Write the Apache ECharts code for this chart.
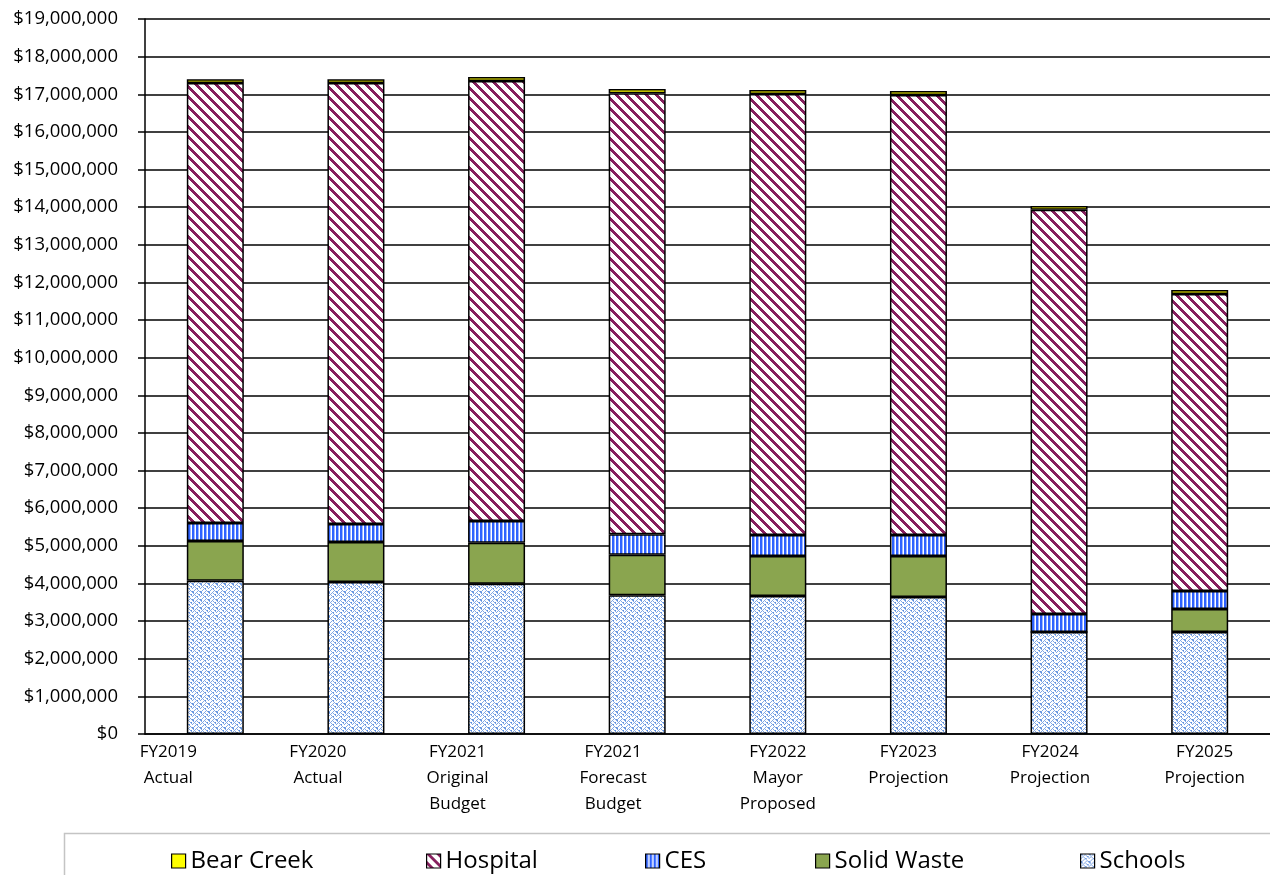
<!DOCTYPE html>
<html><head><meta charset="utf-8">
<script src="https://cdn.jsdelivr.net/npm/echarts@6/dist/echarts.min.js"></script>
<style>html,body{margin:0;padding:0;background:#fff}#c{width:1270px;height:875px}</style>
</head><body><div id="c"></div>
<script>
const categories = ['FY2019\nActual','FY2020\nActual','FY2021\nOriginal\nBudget','FY2021\nForecast\nBudget','FY2022\nMayor\nProposed','FY2023\nProjection','FY2024\nProjection','FY2025\nProjection'];
const labelShift = [-47, -38, -39, -24, 0, -10, -9, 5];
const schools    = [4070000, 4040000, 3990000, 3690000, 3670000, 3640000, 2710000, 2710000];
const solidWaste = [1060000, 1060000, 1090000, 1070000, 1060000, 1090000, 0, 610000];
const ces        = [480000, 480000, 580000, 550000, 560000, 560000, 480000, 480000];
const hospital   = [11690000, 11720000, 11690000, 11720000, 11720000, 11690000, 10740000, 7890000];
const bearCreek  = [100000, 100000, 110000, 110000, 100000, 110000, 100000, 110000];
const yTicks = {min: 0, max: 19000000, interval: 1000000};

function makePattern(w, h, fn) {
  const c = document.createElement('canvas'); c.width = w; c.height = h;
  const ctx = c.getContext('2d');
  ctx.fillStyle = '#fff'; ctx.fillRect(0, 0, w, h);
  for (let y = 0; y < h; y++) for (let x = 0; x < w; x++) {
    const col = fn(x, y); if (col) { ctx.fillStyle = col; ctx.fillRect(x, y, 1, 1); }
  }
  return {image: c, repeat: 'repeat'};
}
const hospPat = makePattern(10, 10, (x, y) => (((x - y) % 10 + 10) % 10) < 4 ? '#86205e' : null);
const cesPat = makePattern(4, 4, (x, y) => x < 2 ? '#2e62ff' : (x === 2 ? '#9db5ff' : null));
const schoolRows = ['11001000','01010100','00100011','01010001','10001100','00010100','00100010','11000101'];
const schoolPat = makePattern(8, 8, (x, y) => schoolRows[y][x] === '1' ? ((x + y) % 2 ? '#5f8fdc' : '#82a8e6') : null);

const font = '"Open Sans", "Noto Sans", sans-serif';
const rich = {};
labelShift.forEach((s, i) => {
  rich['l' + i] = {fontSize: 17, lineHeight: 26, color: '#000', fontFamily: font,
    padding: s < 0 ? [0, -2 * s, 0, 0] : [0, 0, 0, 2 * s]};
});

function mk(name, data, color) {
  return {name, type: 'bar', stack: 't', data, barWidth: 57,
    itemStyle: {color, borderColor: '#000', borderWidth: 1.5}, emphasis: {disabled: true}};
}
const legendPos = [['Bear Creek', 166], ['Hospital', 421], ['CES', 640], ['Solid Waste', 810], ['Schools', 1075]];

const chart = echarts.init(document.getElementById('c'));
chart.setOption({
  animation: false,
  backgroundColor: '#fff',
  grid: {left: 145, right: 0, top: 19, bottom: 141},
  xAxis: {type: 'category', data: categories,
    axisLine: {lineStyle: {color: '#000', width: 1.5}}, axisTick: {show: false},
    axisLabel: {interval: 0, margin: 5,
      formatter: (v, i) => v.split('\n').map(t => '{l' + i + '|' + t + '}').join('\n'), rich}},
  yAxis: {type: 'value', min: yTicks.min, max: yTicks.max, interval: yTicks.interval,
    axisLine: {show: true, lineStyle: {color: '#000', width: 1.5}},
    axisTick: {show: true, length: 7, lineStyle: {color: '#000', width: 1.5}},
    splitLine: {lineStyle: {color: '#000', width: 1.5}},
    axisLabel: {color: '#000', fontSize: 18.5, fontFamily: font, margin: 27,
      formatter: v => '$' + v.toLocaleString('en-US')}},
  legend: legendPos.map(([n, x]) => ({data: [n], left: x, top: 844, itemWidth: 14, itemHeight: 14,
    icon: 'rect', itemGap: 0,
    textStyle: {fontSize: 24, color: '#000', fontFamily: font, padding: [0, 0, 0, 0]},
    itemStyle: {borderColor: '#000', borderWidth: 1.2}})),
  graphic: [{type: 'rect', left: 62, top: 831, shape: {width: 1300, height: 100},
    style: {fill: 'none', stroke: '#c4c4c4', lineWidth: 1.5}}],
  series: [
    mk('Schools', schools, schoolPat),
    mk('Solid Waste', solidWaste, '#8aa54f'),
    mk('CES', ces, cesPat),
    mk('Hospital', hospital, hospPat),
    mk('Bear Creek', bearCreek, '#ffff00')
  ]
});
</script></body></html>
